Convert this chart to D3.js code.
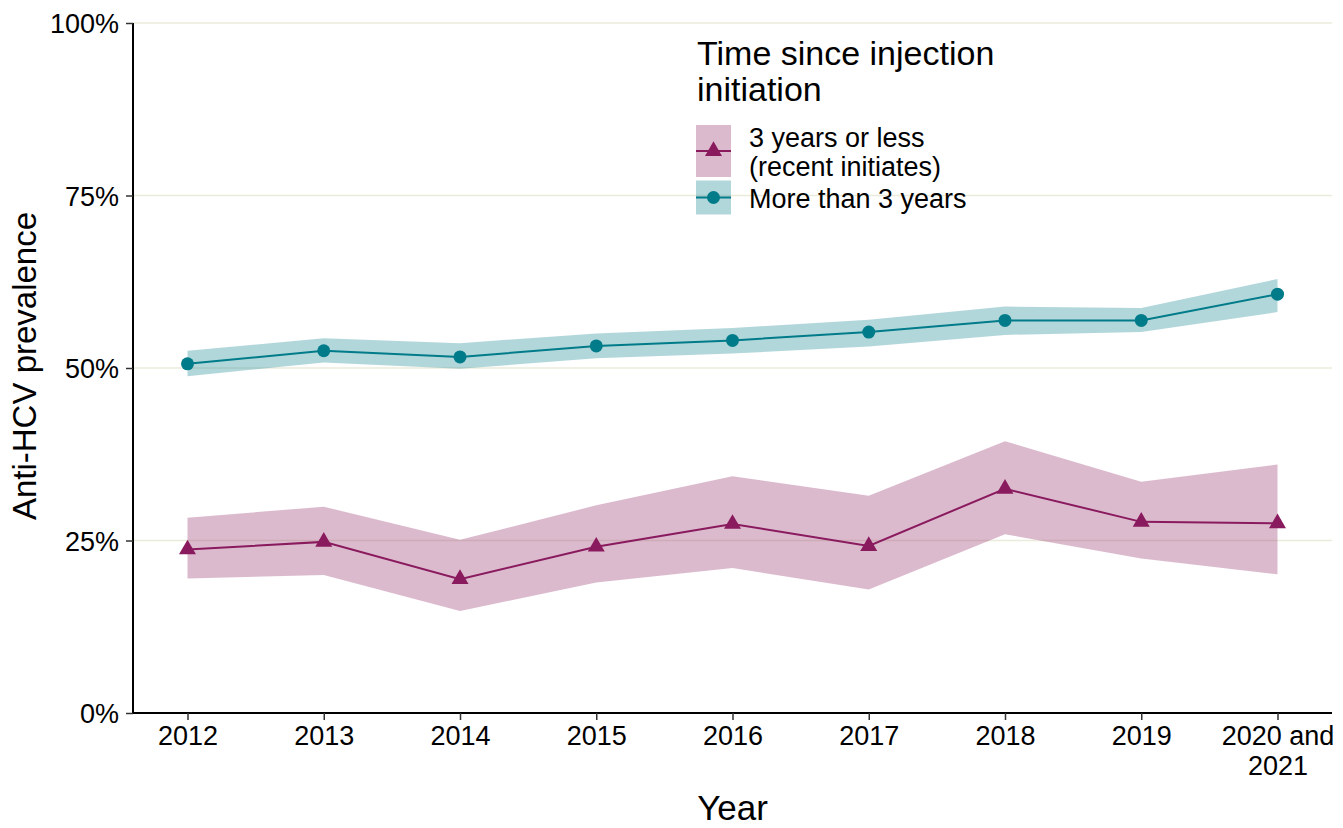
<!DOCTYPE html>
<html>
<head>
<meta charset="utf-8">
<script src="https://cdn.jsdelivr.net/npm/d3@7"></script>
<style>
  html, body { margin: 0; padding: 0; background: #fff; }
  svg { display: block; font-family: "Liberation Sans", Arial, sans-serif; }
</style>
</head>
<body>
<svg id="chart" width="1343" height="828"></svg>
<script>
// ---- Data ----
const years = ["2012", "2013", "2014", "2015", "2016", "2017", "2018", "2019", "2020 and 2021"];
const xTickLabels = [["2012"], ["2013"], ["2014"], ["2015"], ["2016"], ["2017"], ["2018"], ["2019"], ["2020 and", "2021"]];
const recent   = [23.7, 24.8, 19.4, 24.1, 27.4, 24.2, 32.5, 27.7, 27.5];
const recentLo = [19.5, 20.0, 14.8, 18.9, 21.0, 17.9, 25.9, 22.4, 20.1];
const recentHi = [28.3, 29.9, 25.1, 30.1, 34.3, 31.5, 39.4, 33.5, 36.0];
const longer   = [50.6, 52.5, 51.6, 53.2, 54.0, 55.2, 56.9, 56.9, 60.7];
const longerLo = [48.8, 50.8, 49.9, 51.4, 52.1, 53.1, 54.8, 55.2, 58.1];
const longerHi = [52.5, 54.3, 53.6, 55.0, 55.8, 57.0, 58.9, 58.7, 62.9];
const yTicks = [0, 25, 50, 75, 100];
const seriesNames = ["3 years or less\n(recent initiates)", "More than 3 years"];
const legendTitle = ["Time since injection", "initiation"];

const colRecent = "#8a1a5e";
const colLonger = "#007b89";

// ---- Layout ----
const svg = d3.select("#chart");
const pL = 133, pR = 1332, pT = 23, pB = 713;

const x = d3.scalePoint().domain(years).range([pL, pR]).padding(0.4);
const y = d3.scaleLinear().domain([0, 100]).range([pB, pT]);

// gridlines
svg.append("g").selectAll("line").data(yTicks.filter(d => d > 0)).join("line")
  .attr("x1", pL).attr("x2", pR)
  .attr("y1", d => y(d)).attr("y2", d => y(d))
  .attr("stroke", "#ebebdc").attr("stroke-width", 1.5);

function series(mid, lo, hi, color) {
  const rows = years.map((yr, i) => ({yr, v: mid[i], lo: lo[i], hi: hi[i]}));
  const g = svg.append("g");
  g.append("path").datum(rows)
    .attr("d", d3.area().x(d => x(d.yr)).y0(d => y(d.lo)).y1(d => y(d.hi)))
    .attr("fill", color).attr("fill-opacity", 0.3);
  return {g, rows};
}
const sR = series(recent, recentLo, recentHi, colRecent);
const sL = series(longer, longerLo, longerHi, colLonger);

function drawLine(s, color, kind) {
  s.g.append("path").datum(s.rows)
    .attr("d", d3.line().x(d => x(d.yr)).y(d => y(d.v)))
    .attr("fill", "none").attr("stroke", color).attr("stroke-width", 2);
  if (kind === "tri") {
    s.g.selectAll("path.pt").data(s.rows).join("path").attr("class", "pt")
      .attr("transform", d => `translate(${x(d.yr)},${y(d.v)})`)
      .attr("d", d3.symbol(d3.symbolTriangle, 125)())
      .attr("fill", color);
  } else {
    s.g.selectAll("circle").data(s.rows).join("circle")
      .attr("cx", d => x(d.yr)).attr("cy", d => y(d.v)).attr("r", 6.5)
      .attr("fill", color);
  }
}
drawLine(sR, colRecent, "tri");
drawLine(sL, colLonger, "circ");

// axes
const yAxis = svg.append("g").attr("transform", `translate(${pL},0)`)
  .call(d3.axisLeft(y).tickValues(yTicks).tickFormat(d => d + "%").tickSize(7).tickSizeOuter(0).tickPadding(7));
const xAxis = svg.append("g").attr("transform", `translate(0,${pB})`)
  .call(d3.axisBottom(x).tickSize(7).tickSizeOuter(0).tickPadding(6));
[yAxis, xAxis].forEach(a => {
  a.attr("font-size", 27).attr("font-family", "'Liberation Sans', Arial, sans-serif");
  a.select(".domain").attr("stroke", "#000").attr("stroke-width", 2);
  a.selectAll(".tick line").attr("stroke", "#333").attr("stroke-width", 1.5);
  a.selectAll(".tick text").attr("fill", "#000").attr("font-size", 27);
});
yAxis.select(".domain").attr("d", `M0,${pT}V${pB}`);
xAxis.select(".domain").attr("d", `M${pL},0H${pR}`);
yAxis.selectAll(".tick text").attr("dy", "0.36em");
xAxis.selectAll(".tick text").each(function(d, i) {
  const t = d3.select(this);
  t.text(null);
  xTickLabels[i].forEach((ln, j) => {
    t.append("tspan").attr("x", 0).attr("dy", j === 0 ? "0.71em" : "1.12em").text(ln);
  });
});

// axis titles
svg.append("text").attr("x", (pL + pR) / 2).attr("y", 820)
  .attr("text-anchor", "middle").attr("font-size", 35).attr("fill", "#000").text("Year");
svg.append("text").attr("transform", `translate(36,${(pT + pB) / 2 - 2}) rotate(-90)`)
  .attr("text-anchor", "middle").attr("font-size", 33).attr("fill", "#000").text("Anti-HCV prevalence");

// legend
const lg = svg.append("g");
legendTitle.forEach((t, i) => {
  lg.append("text").attr("x", 697).attr("y", 65 + i * 36).attr("font-size", 34)
    .attr("fill", "#000").text(t);
});
const keys = [
  {y0: 125, h: 52, color: colRecent, kind: "tri", label: seriesNames[0], ty: 146.5},
  {y0: 180.5, h: 34, color: colLonger, kind: "circ", label: seriesNames[1], ty: 208}
];
keys.forEach(k => {
  lg.append("rect").attr("x", 696).attr("y", k.y0).attr("width", 35).attr("height", k.h)
    .attr("fill", k.color).attr("fill-opacity", 0.3);
  const cy = k.y0 + k.h / 2;
  lg.append("line").attr("x1", 696).attr("x2", 731).attr("y1", cy).attr("y2", cy)
    .attr("stroke", k.color).attr("stroke-width", 2);
  if (k.kind === "tri") {
    lg.append("path").attr("transform", `translate(713.5,${cy})`)
      .attr("d", d3.symbol(d3.symbolTriangle, 125)()).attr("fill", k.color);
  } else {
    lg.append("circle").attr("cx", 713.5).attr("cy", cy).attr("r", 6.5).attr("fill", k.color);
  }
  k.label.split("\n").forEach((ln, j) => {
    lg.append("text").attr("x", 749).attr("y", k.ty + j * 29).attr("font-size", 27)
      .attr("fill", "#000").text(ln);
  });
});
</script>
</body>
</html>
